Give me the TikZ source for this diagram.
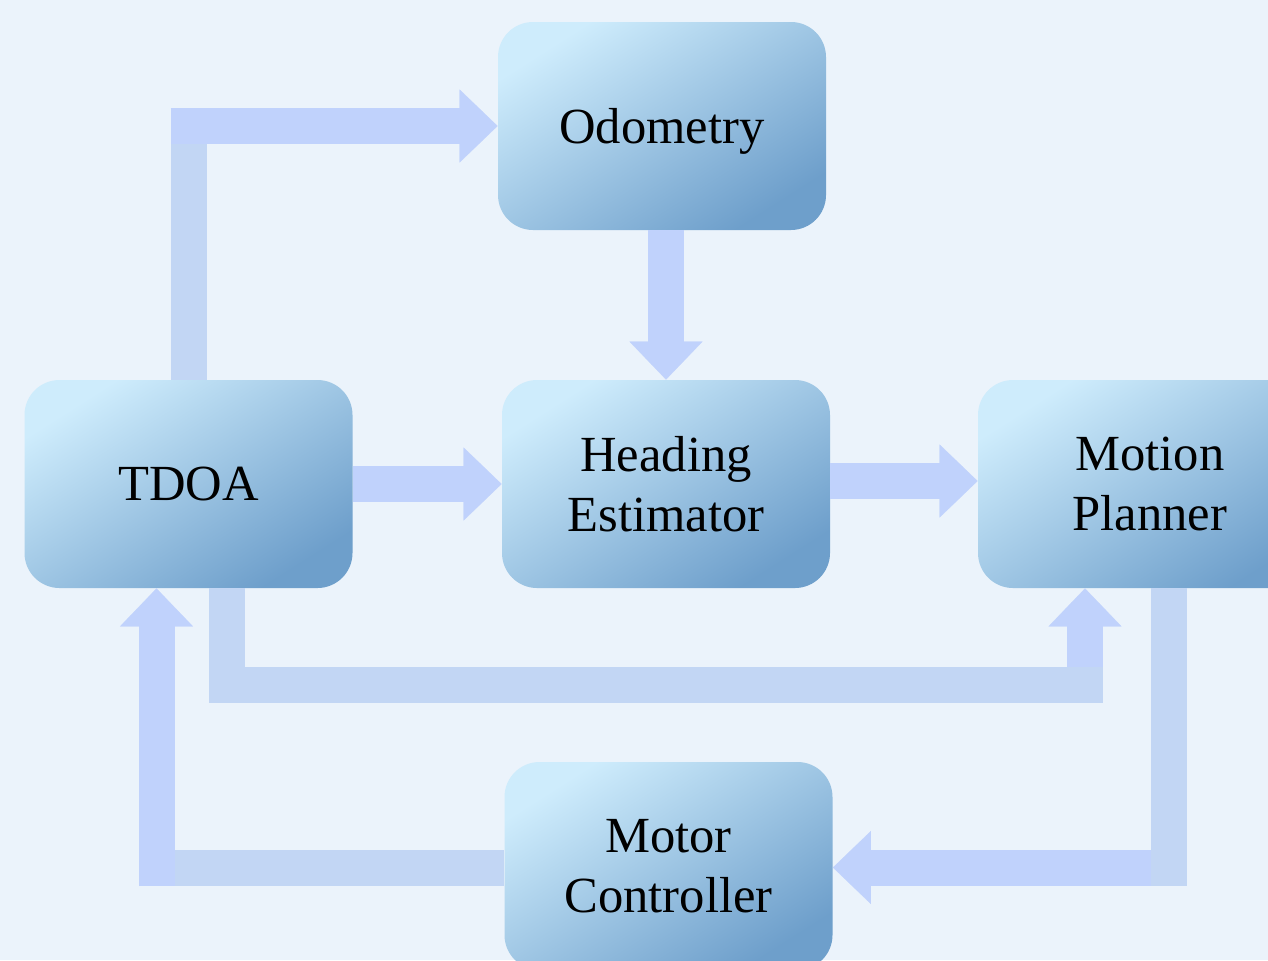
\documentclass[tikz,border=0pt]{standalone}
\usepackage{fontspec}
\setmainfont{Liberation Serif}
\usetikzlibrary{arrows.meta,calc}
\definecolor{bgc}{HTML}{EBF3FB}
\definecolor{arrc}{HTML}{C0D2FC}
\definecolor{linec}{HTML}{C2D6F4}
\definecolor{boxlight}{HTML}{CEECFC}
\definecolor{boxdark}{HTML}{6E9FCB}
\begin{document}
\begin{tikzpicture}[x=0.5pt,y=-0.5pt,
  blk/.style={rounded corners=17.5pt, minimum width=164pt, minimum height=104pt,
    inner sep=0pt, align=center, font=\fontsize{25.3}{30}\selectfont, text depth=0pt,
    top color=boxlight, bottom color=boxdark, shading angle=32.4},
  plain/.style={draw=linec, line width=18pt},
  flow/.style={draw=arrc, line width=18pt,
    -{Triangle[width=36.5pt,length=19pt,line width=0.1pt]}}]
\fill[bgc] (0,0) rectangle (1268,960);
\useasboundingbox (0,0) rectangle (1268,960);
\clip (0,0) rectangle (1268,960);

\node[blk] (odo) at (662,126) {Odometry};
\node[blk] (tdoa) at (188.5,484) {TDOA};
\node[blk] (hdg) at (666,484) {Heading\\Estimator};
\node[blk, minimum width=172pt] (mp) at (1150,484) {Motion\\Planner};
\node[blk] (mc) at (668.5,866) {Motor\\Controller};

% TDOA -> Odometry
\draw[plain] (tdoa.north) -- ($(tdoa.north |- odo.west)+(0,18)$);
\draw[flow] ($(tdoa.north |- odo.west)+(-18,0)$) -- (odo.west);
% Odometry -> Heading
\draw[flow] (odo.south -| hdg.north) -- (hdg.north);
% TDOA -> Heading
\draw[flow] (tdoa.east) -- (hdg.west);
% Heading -> Motion Planner
\draw[flow] ([yshift=1.5pt]hdg.east) -- ([yshift=1.5pt]mp.west);
% TDOA -> Motion Planner (bottom loop)
\coordinate (c5) at (227,685);
\coordinate (a5) at ([xshift=-32.5pt]mp.south);
\draw[flow] (a5 |- c5) -- (a5);
\draw[plain] (tdoa.south -| c5) |- ($(a5 |- c5)+(18,0)$);
% Motion Planner -> Motor Controller
\coordinate (c6) at (1169,867.5);
\draw[flow] ($(c6)+(-18,0)$) -- (mc.east |- c6);
\draw[plain] (mp.south -| c6) -- ($(c6)+(0,18.5)$);
% Motor Controller -> TDOA
\coordinate (c7) at (156.5,868);
\draw[plain] (mc.west |- c7) -- ($(c7)+(-6.5,0)$);
\draw[flow] ($(c7)+(0,18)$) -- (tdoa.south -| c7);
\end{tikzpicture}
\end{document}
